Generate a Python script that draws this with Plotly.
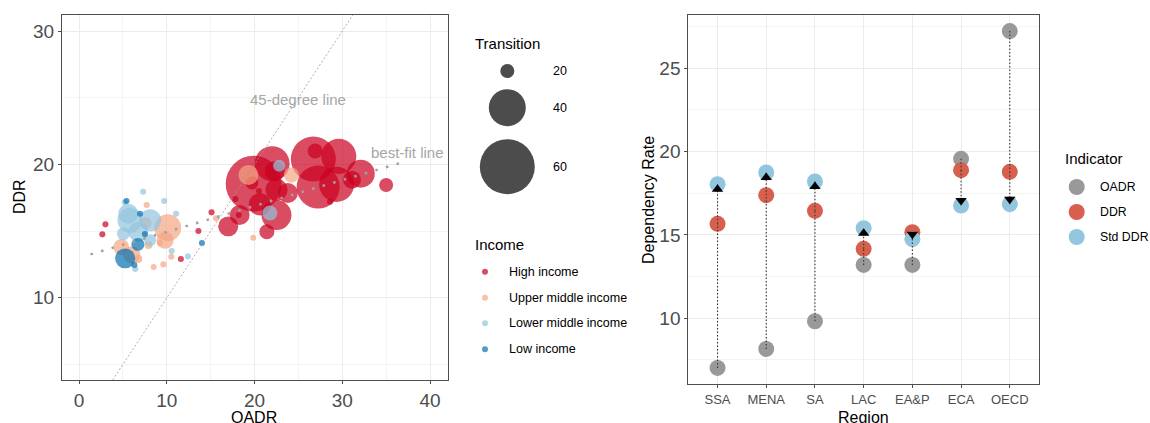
import numpy as np
import plotly.graph_objects as go

# ---------------- Left panel data (OADR, DDR, Transition) ----------------
high_oadr = [19.9, 22.0, 22.3, 19.7, 22.5, 23.8, 20.6, 22.5, 18.3, 17.0, 21.4, 15.1, 18.2, 17.8,
             20.5, 26.7, 29.6, 27.25, 29.35, 32.1, 35.0, 31.1, 28.6, 26.9, 13.6, 3.0, 2.65, 11.6]
high_ddr = [18.55, 20.05, 19.5, 18.6, 18.1, 17.85, 17.0, 16.2, 16.2, 15.35, 14.95, 16.4, 16.2, 17.4,
            18.0, 20.4, 20.6, 18.3, 18.5, 19.3, 18.45, 18.85, 17.2, 21.0, 15.0, 15.5, 14.75, 12.9]
high_trans = [61.1, 38.3, 25.2, 19.4, 27.0, 25.2, 27.0, 33.9, 25.2, 25.2, 20.9, 15.6, 15.6, 15.6,
              15.6, 48.9, 38.3, 46.7, 38.3, 32.2, 20.0, 23.5, 15.6, 20.9, 15.6, 15.6, 15.6, 15.6]

upper_oadr = [10.1, 9.8, 4.8, 6.0, 7.6, 7.7, 9.6, 8.5, 10.5, 19.85, 15.6, 19.3, 24.2, 9.2, 7.9, 6.75]
upper_ddr = [15.25, 14.3, 13.8, 13.2, 15.6, 16.95, 12.5, 12.3, 13.07, 14.5, 15.95, 19.2, 19.2, 14.1, 13.95, 12.9]
upper_trans = [31.3, 22.6, 21.7, 22.6, 18.9, 15.6, 15.6, 15.6, 15.6, 15.6, 15.6, 25.2, 20.9, 15.6, 16.7, 16.7]

lower_oadr = [5.8, 8.1, 6.75, 5.05, 5.6, 7.3, 9.7, 11.05, 10.55, 12.4, 6.4, 5.2, 8.1, 21.75, 22.8]
lower_ddr = [15.8, 15.8, 14.95, 14.8, 16.3, 17.95, 17.25, 16.3, 13.5, 13.1, 12.15, 17.15, 14.3, 16.35, 19.9]
lower_trans = [29.6, 27.0, 25.2, 19.4, 25.2, 15.6, 15.6, 15.6, 15.6, 15.6, 15.6, 15.6, 18.9, 20.9, 18.9]

low_oadr = [5.25, 6.7, 5.4, 6.95, 14.0, 6.3, 7.5]
low_ddr = [12.95, 14.0, 17.25, 16.3, 14.1, 12.45, 14.77]
low_trans = [25.2, 19.4, 15.6, 15.6, 15.6, 15.6, 15.6]

income_names = ["High income", "Upper middle income", "Lower middle income", "Low income"]
income_colors = ["#CA0020", "#F4A582", "#92C5DE", "#0571B0"]

transition_breaks = [20, 40, 60]

# best-fit line
fit_intercept = 13.0
fit_slope = 0.194
fit_x = [1.3, 36.8]

# ---------------- Right panel data ----------------
regions = ["SSA", "MENA", "SA", "LAC", "EA&P", "ECA", "OECD"]
oadr = [7.02, 8.16, 9.82, 13.2, 13.2, 19.56, 27.22]
ddr = [15.66, 17.38, 16.44, 14.16, 15.16, 18.88, 18.78]
std_ddr = [18.04, 18.74, 18.2, 15.4, 14.74, 16.76, 16.84]
indicator_names = ["OADR", "DDR", "Std DDR"]
indicator_colors = ["#999999", "#D6604D", "#92C5DE"]

# ---------------- Layout geometry ----------------
W, H = 1150, 423
PAGE_OFF = 0  # body margin removed by post_script
FONT = "Liberation Sans, Arial, sans-serif"
L_X = (62, 448)
L_Y = (15, 380)
R_X = (688.3, 1039)
R_Y = (14.7, 384.3)
L_XR = [-1.95, 42.05]
L_YR = [3.83, 31.2]
R_XR = [-0.6, 6.6]
R_YR = [6.04, 28.2]


def px(xp):
    return (xp - PAGE_OFF) / W


def py(yp):
    return 1 - (yp - PAGE_OFF) / H


SIZE_T = [15, 20, 40, 60, 70]
SIZE_D = [5, 14, 37, 55, 64]


def size_px(t):
    return np.interp(np.asarray(t, dtype=float), SIZE_T, SIZE_D)


fig = go.Figure()

groups = [(high_oadr, high_ddr, high_trans), (upper_oadr, upper_ddr, upper_trans),
          (lower_oadr, lower_ddr, lower_trans), (low_oadr, low_ddr, low_trans)]
ALPHA = 0.7
for (gx, gy, gt), name, col in zip(groups, income_names, income_colors):
    fig.add_trace(go.Scatter(
        x=gx, y=gy, mode="markers", name=name, showlegend=False,
        marker=dict(size=size_px(gt), color=col, opacity=ALPHA, line=dict(width=0)),
        xaxis="x", yaxis="y"))

# 45-degree line
diag = [L_YR[0], L_YR[1]]
fig.add_trace(go.Scatter(x=diag, y=diag, mode="lines", showlegend=False,
                         line=dict(color="#9a9a9a", width=0.8, dash="2px,2px"),
                         xaxis="x", yaxis="y", hoverinfo="skip"))
# best-fit line
fx = np.array(fit_x)
fig.add_trace(go.Scatter(x=fx, y=fit_intercept + fit_slope * fx, mode="lines", showlegend=False,
                         line=dict(color="#a0a0a0", width=2.5, dash="2.5px,8.5px"),
                         xaxis="x", yaxis="y", hoverinfo="skip"))

# ---------------- Right panel ----------------
xi = np.arange(len(regions))
for vals, name, col in zip([oadr, ddr, std_ddr], indicator_names, indicator_colors):
    fig.add_trace(go.Scatter(x=xi, y=vals, mode="markers", name=name, showlegend=False,
                             marker=dict(size=16, color=col, line=dict(width=0)),
                             xaxis="x2", yaxis="y2"))

seg_x, seg_y = [], []
for i in range(len(regions)):
    seg_x += [i, i, None, i, i, None]
    seg_y += [oadr[i], ddr[i], None, ddr[i], std_ddr[i], None]
fig.add_trace(go.Scatter(x=seg_x, y=seg_y, mode="lines", showlegend=False,
                         line=dict(color="#333333", width=1.1, dash="1.5px,2px"),
                         xaxis="x2", yaxis="y2", hoverinfo="skip"))

TRI = 10
px_per_unit = (R_Y[1] - R_Y[0]) / (R_YR[1] - R_YR[0])
off = (TRI / 2) / px_per_unit
up = [s > d for s, d in zip(std_ddr, ddr)]
tri_y = [s - off if u else s + off for s, u in zip(std_ddr, up)]
tri_sym = ["triangle-up" if u else "triangle-down" for u in up]
fig.add_trace(go.Scatter(x=xi, y=tri_y, mode="markers", showlegend=False,
                         marker=dict(size=TRI, color="black", symbol=tri_sym, line=dict(width=0)),
                         xaxis="x2", yaxis="y2"))

# ---------------- Axes ----------------
grid_major = "#ebebeb"
grid_minor = "#f4f4f4"
axis_common = dict(showline=True, linecolor="#4d4d4d", linewidth=1, mirror=True,
                   ticks="outside", ticklen=3, tickcolor="#4d4d4d", tickwidth=1,
                   gridcolor=grid_major, gridwidth=1, zeroline=False,
                   tickfont=dict(family=FONT, size=19, color="#4d4d4d"))

fig.update_layout(
    width=W, height=H, margin=dict(l=0, r=0, t=0, b=0),
    paper_bgcolor="white", plot_bgcolor="white",
    font=dict(family=FONT),
    xaxis=dict(domain=[px(L_X[0]), px(L_X[1])], range=L_XR, tickvals=[0, 10, 20, 30, 40],
               minor=dict(tickvals=[5, 15, 25, 35], showgrid=True, gridcolor=grid_minor, gridwidth=0.8, ticks=""),
               anchor="y", **axis_common),
    yaxis=dict(domain=[py(L_Y[1]), py(L_Y[0])], range=L_YR, tickvals=[10, 20, 30],
               minor=dict(tickvals=[5, 15, 25], showgrid=True, gridcolor=grid_minor, gridwidth=0.8, ticks=""),
               anchor="x", **axis_common),
    xaxis2=dict(domain=[px(R_X[0]), px(R_X[1])], range=R_XR, tickvals=list(xi), ticktext=regions,
                anchor="y2", **{**axis_common, "tickfont": dict(family=FONT, size=13, color="#4d4d4d")}),
    yaxis2=dict(domain=[py(R_Y[1]), py(R_Y[0])], range=R_YR, tickvals=[10, 15, 20, 25],
                minor=dict(tickvals=[7.5, 12.5, 17.5, 22.5, 27.5], showgrid=True, gridcolor=grid_minor,
                           gridwidth=0.8, ticks=""),
                anchor="x2", **axis_common),
)

ann = []


def text(xp, yp, s, size, color="black", xanchor="left", angle=0):
    ann.append(dict(x=px(xp), y=py(yp), xref="paper", yref="paper", text=s, showarrow=False,
                    xanchor=xanchor, yanchor="middle", textangle=angle,
                    font=dict(family=FONT, size=size, color=color)))


# axis titles
text(254, 417.5, "OADR", 16, xanchor="center")
text(19, 197, "DDR", 16, xanchor="center", angle=-90)
text(648, 200, "Dependency Rate", 16, xanchor="center", angle=-90)
text(863, 417.5, "Region", 16, xanchor="center")

# in-plot labels
ann.append(dict(x=25, y=24.9, xref="x", yref="y", text="45-degree line", showarrow=False,
                font=dict(family=FONT, size=15, color="#a6a6a6")))
ann.append(dict(x=37.4, y=20.9, xref="x", yref="y", text="best-fit line", showarrow=False,
                font=dict(family=FONT, size=15, color="#a6a6a6")))

shapes = []


def circle(cx, cy, d, color, opacity=1.0):
    r = d / 2
    shapes.append(dict(type="circle", xref="paper", yref="paper", xsizemode="pixel", ysizemode="pixel",
                       xanchor=px(cx), yanchor=py(cy), x0=-r, x1=r, y0=-r, y1=r,
                       fillcolor=color, opacity=opacity, line=dict(width=0), layer="above"))


# Transition legend
text(472.7, 43.5, "Transition", 15)
for b, yy in zip(transition_breaks, [71, 107.7, 166.7]):
    circle(507.3, yy, float(size_px(b)), "black", ALPHA)
    text(550.7, yy, str(b), 12.5)

# Income legend
text(472.7, 244, "Income", 15)
for name, col, yy in zip(income_names, income_colors, [271.7, 297.7, 323.3, 349.3]):
    circle(485, yy, 6, col, ALPHA)
    text(506.7, yy, name, 12.5)

# Indicator legend
text(1063, 158, "Indicator", 15)
for name, col, yy in zip(indicator_names, indicator_colors, [187, 212, 237]):
    circle(1076.7, yy, 16, col)
    text(1097.5, yy, name, 12.3)

fig.update_layout(annotations=ann, shapes=shapes)
fig.write_html("out.html",
               config={"displayModeBar": False},
               post_script="document.body.style.margin='0px';"
                           "document.documentElement.style.overflow='hidden';")
